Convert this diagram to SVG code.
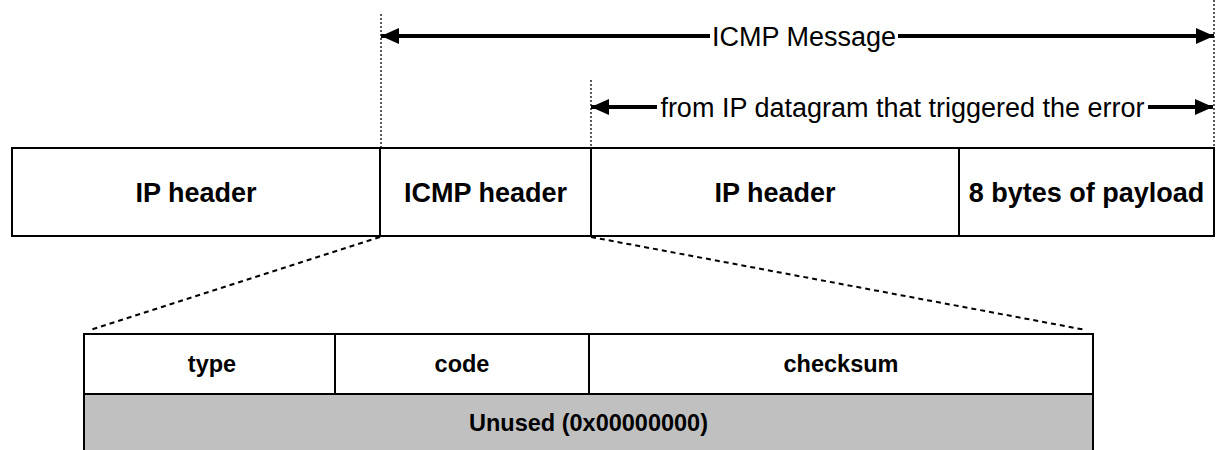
<svg xmlns="http://www.w3.org/2000/svg" width="1216" height="450" viewBox="0 0 1216 450">
<style>
.box{fill:#fff;stroke:#000;stroke-width:2}
.gray{fill:#c0c0c0;stroke:#000;stroke-width:2}
.lbl{font-family:"Liberation Sans",Arial,sans-serif;font-weight:bold;font-size:27px;text-anchor:middle;fill:#000}
.lbl2{font-family:"Liberation Sans",Arial,sans-serif;font-weight:bold;font-size:23.5px;text-anchor:middle;fill:#000}
.cap{font-family:"Liberation Sans",Arial,sans-serif;font-size:27px;text-anchor:middle;fill:#000}
.dot{stroke:#000;stroke-width:1.3;stroke-dasharray:2 2;fill:none}
.dash{stroke:#000;stroke-width:2;stroke-dasharray:5 4;fill:none}
.arr{stroke:#000;stroke-width:4;fill:none}
</style>
<defs>
<marker id="ah" markerWidth="18" markerHeight="16" refX="18" refY="8" orient="auto-start-reverse" markerUnits="userSpaceOnUse">
<path d="M0,0 L18,8 L0,16 Z" fill="#000"/>
</marker>
</defs>
<g id="connectors">
<line class="dot" x1="381" y1="14" x2="381" y2="148"/>
<line class="dot" x1="591" y1="80" x2="591" y2="148"/>
<line class="dot" x1="1214" y1="0" x2="1214" y2="148"/>
<line class="arr" x1="381" y1="36" x2="710" y2="36" marker-start="url(#ah)"/>
<line class="arr" x1="898" y1="36" x2="1214" y2="36" marker-end="url(#ah)"/>
<line class="arr" x1="591" y1="107" x2="657" y2="107" marker-start="url(#ah)"/>
<line class="arr" x1="1148" y1="107" x2="1213" y2="107" marker-end="url(#ah)"/>
<line class="dash" x1="380" y1="237" x2="90" y2="330"/>
<line class="dash" x1="591" y1="237" x2="1086" y2="330"/>
</g>
<g id="label-icmp-message"><text class="cap" x="804" y="46">ICMP Message</text></g>
<g id="label-from-ip"><text class="cap" x="902.5" y="117">from IP datagram that triggered the error</text></g>
<g id="ip-header-outer">
<rect class="box" x="12" y="148" width="368" height="88"/>
<text class="lbl" x="196" y="202">IP header</text>
</g>
<g id="icmp-header">
<rect class="box" x="380" y="148" width="211" height="88"/>
<text class="lbl" x="485.5" y="202">ICMP header</text>
</g>
<g id="ip-header-inner">
<rect class="box" x="591" y="148" width="368" height="88"/>
<text class="lbl" x="775" y="202">IP header</text>
</g>
<g id="payload">
<rect class="box" x="959" y="148" width="255" height="88"/>
<text class="lbl" x="1086.5" y="202">8 bytes of payload</text>
</g>
<g id="type">
<rect class="box" x="84" y="334" width="251" height="60"/>
<text class="lbl2" x="212" y="372">type</text>
</g>
<g id="code">
<rect class="box" x="335" y="334" width="254" height="60"/>
<text class="lbl2" x="462" y="372">code</text>
</g>
<g id="checksum">
<rect class="box" x="589" y="334" width="504" height="60"/>
<text class="lbl2" x="841" y="372">checksum</text>
</g>
<g id="unused">
<rect class="gray" x="84" y="394" width="1009" height="70"/>
<text class="lbl2" x="588.5" y="431">Unused (0x00000000)</text>
</g>
</svg>
